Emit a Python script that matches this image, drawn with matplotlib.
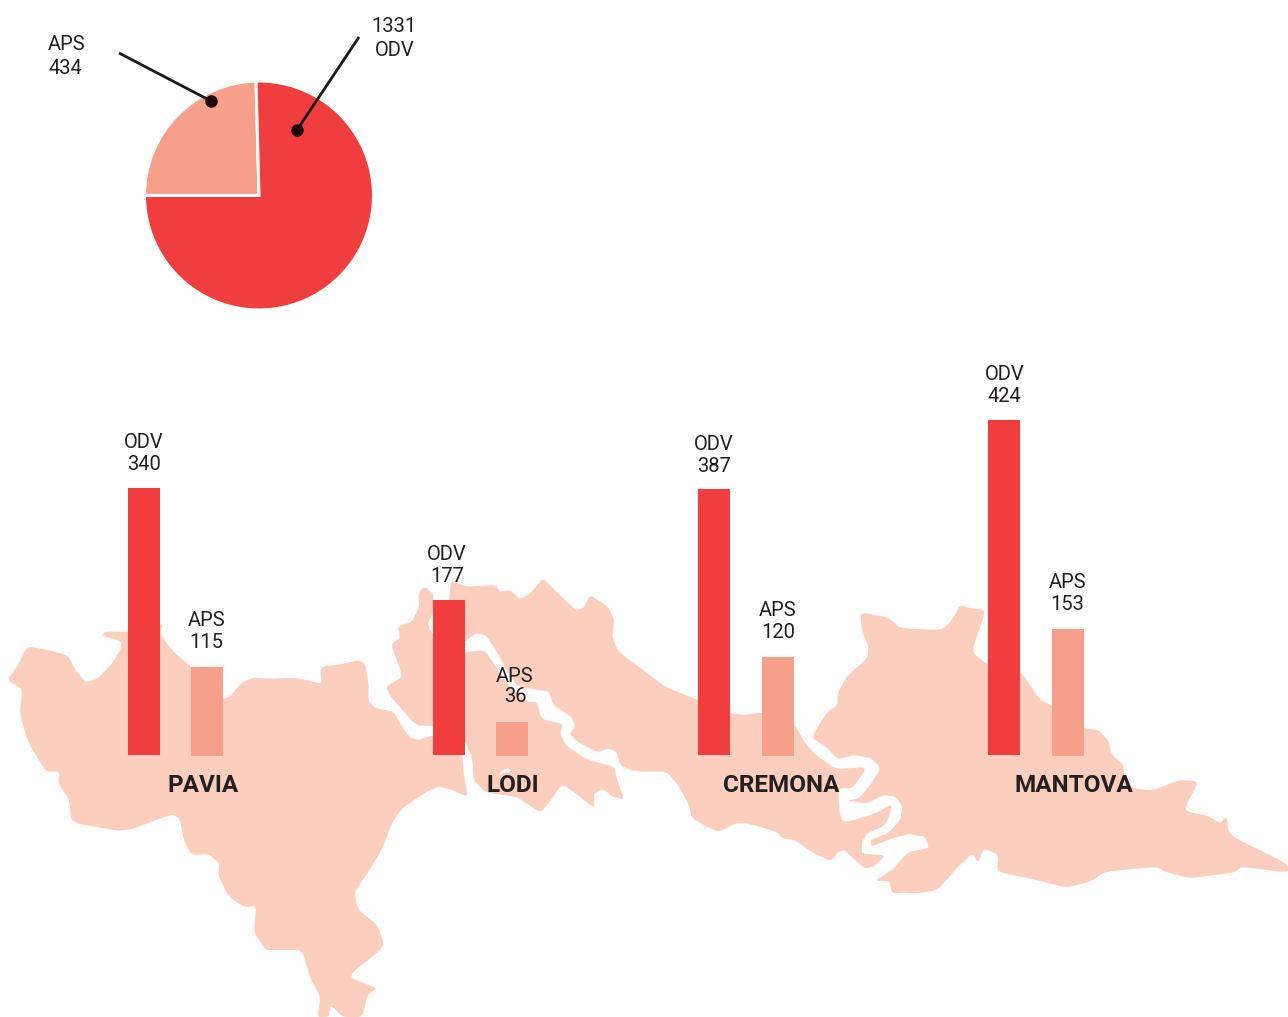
import numpy as np
import matplotlib
matplotlib.use("Agg")
import matplotlib.pyplot as plt
from matplotlib.patches import Polygon

W, H = 1288, 1017
BASE_Y = 755

RED = "#F03E3E"
SALMON = "#F6A08C"
PINK = "#FCCEBE"
INK = "#231F20"

plt.rcParams["font.family"] = ["Roboto", "DejaVu Sans"]

# pie
pie_names = ["APS", "ODV"]
pie_values = [434, 1331]

# bars
provinces = ["PAVIA", "LODI", "CREMONA", "MANTOVA"]
odv_values = [340, 177, 387, 424]
aps_values = [115, 36, 120, 153]
# bar lengths, the source does not draw them to one scale
odv_lengths = [267, 155, 266, 335]
aps_lengths = [89, 34, 99, 127]

# map outlines, traced in crop coordinates
pavia_outline = [(18, 330), (42, 290), (66, 229), (120, 240), (167, 257), (185, 300), (210, 338), (240, 325),
                 (275, 280), (295, 240), (297, 213), (252, 198), (256, 185), (314, 185), (392, 163), (399, 163),
                 (392, 190), (420, 240), (468, 290), (546, 388), (565, 378), (590, 340), (620, 323), (660, 326),
                 (720, 323), (750, 330), (788, 342), (785, 300), (795, 288), (830, 284), (880, 270), (895, 285),
                 (903, 340), (903, 395), (920, 415), (965, 425), (985, 470), (1005, 503), (1025, 510), (1062, 495),
                 (1100, 520), (1133, 555), (1135, 600), (1146, 682), (1110, 660), (1075, 650), (1045, 665), (985, 715),
                 (960, 760), (935, 840), (900, 910), (868, 968), (878, 1020), (925, 1065), (943, 1130), (850, 1220),
                 (925, 1255), (900, 1275), (888, 1341), (840, 1341), (810, 1305), (805, 1341), (778, 1341), (785, 1280),
                 (760, 1225), (740, 1140), (690, 1140), (650, 1140), (622, 1085), (628, 1008), (600, 1012), (560, 980),
                 (535, 915), (538, 880), (510, 852), (470, 855), (450, 810), (440, 745), (422, 732), (305, 786),
                 (175, 758), (170, 690), (143, 640), (145, 605), (113, 605), (70, 520), (48, 430), (55, 358)]

lodi_outline = [(1040, 50), (1062, 72), (1062, 125), (1048, 160), (1055, 185), (1100, 247), (1139, 247), (1187, 240),
                (1215, 290), (1245, 345), (1290, 395), (1315, 395), (1327, 448), (1380, 462), (1372, 490), (1385, 525),
                (1440, 570), (1505, 590), (1512, 630), (1530, 690), (1500, 680), (1480, 658), (1455, 670), (1457, 716),
                (1378, 640), (1350, 690), (1325, 728), (1295, 705), (1265, 680), (1190, 668), (1160, 630), (1158, 570),
                (1139, 510), (1100, 500), (1062, 467), (1020, 467), (960, 385), (945, 350), (988, 320), (957, 222),
                (980, 205), (975, 170), (1010, 155), (1027, 110), (1025, 70)]
lodi_gap = [(1222, 615), (1228, 602), (1240, 596), (1254, 600), (1248, 606), (1236, 608)]

cremona_left = [(1100, 90), (1105, 30), (1140, 50), (1215, 45), (1225, 65), (1250, 60), (1275, 88), (1300, 70),
                (1330, 25), (1350, 50), (1410, 120), (1430, 115), (1445, 75), (1490, 110), (1505, 150), (1500, 200),
                (1515, 245), (1568, 293)]
cremona_right = [(60, 350), (140, 390), (218, 430), (255, 435), (295, 427), (373, 460), (395, 510), (420, 550),
                 (475, 598), (550, 590), (515, 655), (480, 655), (483, 730), (490, 752), (505, 755), (570, 730),
                 (612, 702), (595, 765), (550, 790), (537, 815), (537, 852), (595, 855), (565, 890), (545, 895),
                 (520, 870), (495, 840), (480, 845), (463, 873), (420, 850), (375, 810), (345, 805), (330, 785),
                 (260, 760), (230, 760), (190, 787), (125, 745), (120, 710), (95, 650), (65, 605), (0, 605)]
cremona_tail = [(1545, 600), (1520, 585), (1510, 545), (1490, 535), (1465, 548), (1415, 515), (1395, 490), (1410, 470),
                (1400, 440), (1355, 405), (1345, 365), (1320, 360), (1270, 350), (1245, 310), (1215, 240), (1190, 195),
                (1165, 190), (1139, 215), (1100, 215)]

mantova_outline = [(415, 503), (450, 430), (478, 405), (478, 370), (500, 320), (550, 265), (553, 230), (537, 180),
                   (533, 127), (600, 142), (630, 175), (730, 180), (755, 150), (775, 105), (800, 115), (838, 120),
                   (802, 245), (842, 285), (920, 300), (965, 385), (997, 408), (1074, 475), (1110, 480), (1135, 515),
                   (1140, 550), (1170, 585), (1172, 630), (1195, 655), (1240, 662), (1305, 630), (1352, 634), (1315, 722),
                   (1375, 738), (1405, 760), (1420, 738), (1425, 795), (1568, 882), (1568, 908), (1455, 890), (1440, 907),
                   (1330, 925), (1270, 905), (1250, 890), (1125, 905), (1090, 935), (1030, 953), (960, 930), (863, 905),
                   (868, 855), (833, 835), (818, 878), (805, 850), (770, 890), (720, 960), (670, 970), (640, 968),
                   (610, 970), (603, 933), (568, 932), (610, 900), (650, 845), (700, 835), (690, 800), (650, 792),
                   (610, 805), (560, 830), (558, 810), (600, 790), (630, 750), (635, 710), (620, 680), (590, 675),
                   (550, 700), (500, 692), (530, 685), (560, 640), (582, 595), (560, 565), (520, 555), (478, 568),
                   (450, 530)]


def crop_west(points):
    pts = np.array(points, dtype=float)
    return np.column_stack([pts[:, 0] / 2.45, 570 + pts[:, 1] / 3])


def crop_east(points):
    pts = np.array(points, dtype=float)
    return np.column_stack([640 + pts[:, 0] / 2.42, 570 + pts[:, 1] / 3])


# takes the hard edge off the traced corners, tips stay fairly sharp
def soften(pts, rounds=2, cut=0.14):
    for _ in range(rounds):
        nxt = np.roll(pts, -1, axis=0)
        pts = np.column_stack([(1 - cut) * pts + cut * nxt, cut * pts + (1 - cut) * nxt]).reshape(-1, 2)
    return pts


fig = plt.figure(figsize=(W / 100, H / 100), dpi=100, facecolor="white")

# map and annotations, in picture pixels
ax_map = fig.add_axes([0, 0, 1, 1])
ax_map.set_xlim(0, W)
ax_map.set_ylim(H, 0)
ax_map.axis("off")

shapes = [crop_west(pavia_outline), crop_west(lodi_outline),
          np.vstack([crop_west(cremona_left), crop_east(cremona_right), crop_west(cremona_tail)]),
          crop_east(mantova_outline)]
for shape in shapes:
    ax_map.add_patch(Polygon(soften(shape), closed=True, facecolor=PINK, edgecolor="none"))
ax_map.add_patch(Polygon(soften(crop_west(lodi_gap)), closed=True, facecolor="white", edgecolor="none"))

# pie, centre at (259, 195.5)
radius = 114.5
ax_pie = fig.add_axes([(259 - radius) / W, 1 - (195.5 + radius) / H, 2 * radius / W, 2 * radius / H])
ax_pie.pie(pie_values, colors=[SALMON, RED], startangle=180, counterclock=False, radius=1,
           wedgeprops={"edgecolor": "white", "linewidth": 2.2})
ax_pie.set_xlim(-1, 1)
ax_pie.set_ylim(-1, 1)

# bars, y is the length above the baseline
ax_bars = fig.add_axes([0, 0, 1, 1])
ax_bars.patch.set_alpha(0)
ax_bars.set_xlim(0, W)
ax_bars.set_ylim(BASE_Y - H, BASE_Y)
ax_bars.axis("off")

odv_x = [144, 449, 714, 1004]
aps_x = [207, 512, 778, 1068]
odv_label_x = [144, 447, 714, 1004.5]
aps_label_x = [206.5, 515, 778, 1067.5]
name_x = [203, 513, 781, 1074]

ax_bars.bar(odv_x, odv_lengths, width=32, color=RED, zorder=3)
ax_bars.bar(aps_x, aps_lengths, width=32, bottom=-1, color=SALMON, zorder=3)

label_style = {"fontsize": 14.5, "color": INK, "ha": "center", "va": "center", "zorder": 5}
for i in range(len(provinces)):
    ax_bars.text(odv_label_x[i], odv_lengths[i] + 45, "ODV", **label_style)
    ax_bars.text(odv_label_x[i], odv_lengths[i] + 23, str(odv_values[i]), **label_style)
    ax_bars.text(aps_label_x[i], aps_lengths[i] + 45, "APS", **label_style)
    ax_bars.text(aps_label_x[i], aps_lengths[i] + 24, str(aps_values[i]), **label_style)
    ax_bars.text(name_x[i], -31, provinces[i], fontsize=17.5, fontweight="bold", color=INK,
                 ha="center", va="center", zorder=5)

# pie callouts
ax_top = fig.add_axes([0, 0, 1, 1])
ax_top.patch.set_alpha(0)
ax_top.set_xlim(0, W)
ax_top.set_ylim(H, 0)
ax_top.axis("off")
ax_top.plot([119, 211], [53, 101], color="#1A1A1A", lw=2.0, solid_capstyle="butt")
ax_top.plot([359, 297], [37, 130], color="#1A1A1A", lw=2.0, solid_capstyle="butt")
ax_top.plot([211, 297], [101, 130], ls="none", marker="o", ms=8, color="#1C0606")
ax_top.text(67, 44, pie_names[0], fontsize=14.5, color=INK, ha="center", va="center")
ax_top.text(65.5, 68, str(pie_values[0]), fontsize=14.5, color=INK, ha="center", va="center")
ax_top.text(394, 27, str(pie_values[1]), fontsize=14.5, color=INK, ha="center", va="center")
ax_top.text(394.5, 51, pie_names[1], fontsize=14.5, color=INK, ha="center", va="center")

fig.savefig("out.png", dpi=100)
